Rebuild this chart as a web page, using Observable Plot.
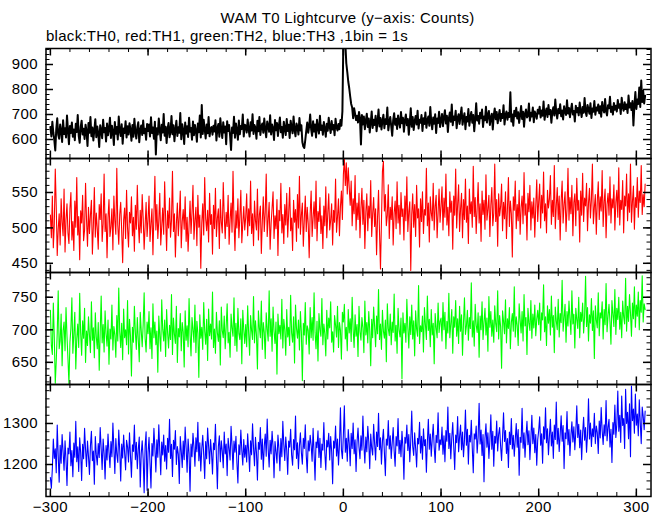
<!DOCTYPE html>
<html><head><meta charset="utf-8">
<script src="https://cdn.jsdelivr.net/npm/d3@7"></script>
<script src="https://cdn.jsdelivr.net/npm/@observablehq/plot@0.6"></script>
<style>
body{margin:0;background:#fff;}
#chart{position:relative;width:661px;height:515px;background:#fff;font-family:"Liberation Sans",Arial,sans-serif;color:#000;}
#title{position:absolute;left:45px;width:605px;top:9px;text-align:center;font-size:15px;letter-spacing:0.3px;line-height:17px;white-space:nowrap;}
#subtitle{position:absolute;left:46px;top:27px;font-size:15px;letter-spacing:0.28px;line-height:17px;white-space:nowrap;}
.panel{position:absolute;left:0;}
.panel text{letter-spacing:0.4px;}
</style></head>
<body>
<div id="chart">
<div id="title">WAM T0 Lightcurve (y−axis: Counts)</div>
<div id="subtitle">black:TH0, red:TH1, green:TH2, blue:TH3 ,1bin = 1s</div>
</div>
<script>
// first bin time (s), 1 bin = 1 s
const tStart = -300;

// TH0 (black) counts per bin, t = -300 ... 309
const th0 = [
650,612,671,628,598,556,641,685,619,603,660,634,590,677,622,645,608,696,637,581,
654,626,668,611,640,597,663,630,698,615,587,649,675,620,643,602,659,633,574,666,
627,690,613,648,596,638,681,609,652,624,570,657,636,605,679,629,646,592,664,617,
642,687,606,655,631,578,670,623,650,600,692,635,614,661,583,644,626,673,608,653,
620,665,639,595,658,611,683,632,604,647,669,589,637,656,618,676,625,643,599,662,
634,660,612,689,626,648,603,671,540,645,620,684,637,597,659,628,702,615,651,586,
643,666,609,632,694,621,657,593,640,675,614,649,627,706,601,661,636,582,668,624,
653,610,687,631,646,599,672,617,658,635,591,664,629,696,608,738,622,679,641,604,
660,625,690,613,643,650,619,655,632,677,596,644,662,611,685,639,606,669,628,652,
581,673,634,658,615,558,648,626,691,607,664,637,599,676,621,654,642,700,612,659,
655,628,680,641,612,669,636,701,622,658,647,603,675,633,690,618,651,664,627,684,
640,609,672,653,631,697,620,660,645,598,678,637,666,614,655,688,629,650,607,671,
643,618,682,634,659,606,675,648,625,692,639,613,664,651,620,686,636,657,590,572,
566,598,635,668,627,654,700,641,615,673,632,660,608,679,646,624,695,638,656,619,
670,644,611,663,635,687,652,626,674,640,658,617,683,648,636,
662,641,678,655,712,
1000,1000,985,905,870,832,805,772,742,728,685,725,702,678,695,668,710,684,580,698,
660,692,641,675,703,650,684,628,667,712,646,679,658,695,633,671,720,652,686,640,
674,699,645,681,662,728,637,668,690,654,615,677,705,659,683,642,696,671,648,710,
665,687,631,676,700,657,682,619,669,725,651,690,638,673,694,660,715,644,679,667,
698,634,685,662,708,647,677,692,655,730,670,641,688,663,701,626,684,666,711,650,
676,702,653,689,717,664,695,630,683,708,671,740,657,692,678,715,645,686,701,662,
697,728,659,684,705,641,690,672,722,655,688,710,667,698,633,681,745,676,694,663,
707,685,720,650,692,677,731,668,699,714,658,688,703,640,696,724,681,710,665,693,
718,674,702,686,737,660,697,712,679,706,690,789,672,700,655,715,693,727,684,709,
666,698,734,682,711,651,703,720,688,695,744,675,707,692,728,669,712,700,683,719,
704,731,688,716,695,752,679,709,724,690,738,701,718,667,712,729,696,760,708,684,
722,705,741,693,716,680,733,711,698,757,704,726,689,719,743,700,714,672,735,709,
726,697,748,715,690,730,707,766,712,694,738,720,703,745,686,724,711,754,699,728,
716,740,705,733,691,750,721,708,762,713,696,737,725,771,710,731,700,746,719,735,
712,758,727,741,702,767,730,715,749,722,740,706,776,728,745,718,754,656,736,790,
722,760,742,808,730,836,750,795,744,775
];

// TH1 (red)
const th1 = [
518,486,545,472,505,583,530,461,498,520,476,541,508,489,555,466,512,534,493,478,
527,550,483,509,468,538,501,571,490,516,455,524,507,546,482,497,563,511,474,529,
492,518,539,463,503,557,487,521,499,470,533,512,548,481,506,576,495,520,458,514,
540,488,502,527,469,545,510,491,584,504,477,519,536,496,451,511,528,485,553,500,
473,522,507,544,489,515,467,532,498,560,508,479,525,493,547,514,470,503,536,488,
512,545,481,506,527,462,519,573,497,533,485,510,549,476,502,528,491,565,514,468,
524,500,542,487,511,580,495,520,459,506,535,489,517,552,472,509,526,498,544,481,
515,467,503,538,492,521,560,484,510,529,475,546,501,518,443,507,534,490,571,513,
496,525,480,549,505,519,463,532,499,556,488,514,527,471,540,508,493,564,517,485,
522,502,546,477,511,535,494,580,509,468,524,500,541,486,516,553,479,506,530,497,
515,548,489,527,503,566,492,520,475,538,510,497,555,483,518,531,464,509,544,495,
522,576,488,512,536,470,506,528,551,485,517,499,540,461,525,510,563,493,519,478,
533,504,549,487,521,557,496,514,468,539,508,526,481,547,500,573,491,518,535,474,
512,545,495,529,506,458,520,552,488,514,537,499,566,482,523,509,543,492,517,471,
531,503,558,486,520,548,497,511,534,476,525,508,569,494,516,541,489,530,552,512,
575,598,560,592,548,585,557,532,566,503,541,520,574,497,535,512,549,486,528,556,
505,539,471,522,548,496,531,514,567,488,520,543,502,527,462,515,553,494,442,509,
580,594,524,547,503,518,561,485,529,512,544,476,521,538,499,565,507,532,491,550,
516,527,483,545,510,572,495,523,537,440,519,548,501,533,488,560,514,527,473,541,
509,551,492,526,518,584,503,535,480,544,521,510,563,497,530,546,486,522,555,508,
531,558,497,542,515,576,504,529,489,551,522,538,470,545,518,583,500,533,561,495,
527,549,486,540,512,569,508,531,478,555,520,537,501,587,516,543,492,528,564,507,
534,481,552,519,539,498,575,511,526,546,488,532,557,503,521,590,509,540,474,548,
517,530,562,496,536,513,551,485,527,571,502,538,520,459,544,525,566,499,533,510,
553,491,529,545,506,578,518,534,483,549,523,560,497,537,514,542,487,531,568,509,
537,562,500,546,521,579,510,534,493,553,528,541,574,505,539,516,588,499,531,557,
512,545,483,538,566,507,533,551,495,527,584,511,543,520,560,489,536,548,503,570,
525,539,480,552,518,577,509,542,531,563,496,535,556,514,540,590,506,529,547,491,
538,565,512,544,524,581,502,537,555,486,533,549,518,572,507,541,528,561,497,536,
553,515,585,504,539,526,567,493,545,531,576,510,548,522,590,508,537,559,498,543,
529,571,515,552,536,588,519,547,530,562
];

// TH2 (green)
const th2 = [
730,676,662,741,688,618,652,695,760,671,683,724,645,699,712,668,734,690,655,617,
681,702,749,664,693,727,640,686,709,673,756,695,661,714,687,733,650,698,676,720,
692,665,743,684,703,657,726,689,671,711,638,697,752,680,708,666,729,694,675,715,
647,701,686,738,669,705,692,658,722,683,764,697,673,710,654,732,688,700,677,745,
663,716,691,629,704,681,736,696,670,719,685,651,727,699,674,708,757,687,666,712,
694,728,671,703,656,740,688,712,677,698,635,721,690,667,746,701,683,715,659,731,
696,672,707,685,754,662,718,693,679,736,650,702,689,725,668,711,697,643,729,684,
706,674,748,692,660,719,700,681,738,665,713,695,627,723,687,704,670,742,698,678,
716,653,732,691,709,686,758,673,701,664,727,695,682,714,646,735,699,688,721,671,
705,740,680,696,658,724,703,690,749,676,710,667,733,694,685,717,648,730,700,679,
708,674,737,695,661,722,699,685,751,680,714,692,640,729,703,688,744,670,711,696,
656,726,701,683,760,690,717,667,735,698,679,712,632,724,694,707,686,747,672,716,
700,661,731,689,704,676,753,695,681,720,649,738,702,687,715,669,728,697,622,710,
692,742,678,706,699,663,734,688,719,684,757,696,671,713,652,725,701,690,748,677,
709,694,660,730,686,718,703,743,681,697,666,722,707,689,736,673,711,699,655,727,
712,739,686,704,668,731,695,717,682,750,700,673,723,690,708,659,736,697,684,719,
703,665,744,692,711,680,728,699,645,716,688,735,705,674,721,694,762,685,709,670,
730,698,687,715,651,740,702,691,724,677,712,696,755,683,707,664,733,700,689,718,
625,726,695,710,681,747,704,672,720,693,738,686,714,660,729,701,690,768,679,706,
697,721,666,734,708,685,752,699,716,674,731,692,710,648,725,703,688,741,696,713,
718,683,742,700,727,671,713,695,756,688,709,731,664,720,704,745,690,717,679,736,
698,723,661,711,749,693,706,730,684,719,702,772,689,714,675,739,707,696,726,658,
721,700,743,685,712,733,692,718,667,751,704,728,690,715,681,737,709,697,760,686,
722,705,641,729,713,694,746,680,717,702,734,671,711,725,698,766,689,720,707,676,
740,715,695,728,683,754,706,719,662,733,711,699,745,687,724,703,738,691,716,730,
708,741,684,726,715,769,697,720,676,737,710,731,692,752,704,722,665,735,714,700,
747,689,725,711,776,698,719,739,681,728,706,744,717,693,760,709,724,672,733,716,
702,750,688,727,713,741,695,720,782,705,734,683,723,710,748,699,729,656,737,715,
703,757,691,726,718,743,686,731,708,771,697,721,739,712,678,745,724,705,762,693,
733,716,750,701,727,688,744,720,709,779,698,736,713,754,725,690,741,717,766,704,
738,721,758,700,745,727,783,712,740,731
];

// TH3 (blue)
const th3 = [
1168,1142,1190,1262,1215,1238,1180,1296,1222,1157,1247,1203,1273,1231,1186,1258,1211,1149,1240,1226,
1279,1197,1234,1170,1252,1218,1305,1207,1243,1183,1265,1229,1161,1249,1214,1288,1236,1195,1257,1220,
1176,1245,1281,1209,1233,1152,1268,1224,1199,1251,1217,1290,1238,1188,1262,1227,1165,1246,1211,1274,
1230,1193,1256,1219,1301,1240,1178,1263,1225,1205,1284,1235,1160,1250,1216,1272,1228,1187,1259,1243,
1206,1277,1221,1169,1248,1232,1296,1212,1254,1190,1237,1267,1145,1226,1258,1213,1131,1245,1280,1137,
1229,1266,1204,1143,1251,1221,1288,1239,1182,1260,1218,1297,1234,1175,1255,1223,1272,1208,1246,1189,
1264,1230,1310,1215,1249,1171,1259,1237,1283,1200,1244,1225,1154,1268,1233,1193,1257,1212,1291,1240,
1181,1262,1227,1135,1250,1219,1276,1242,1196,1265,1231,1303,1209,1253,1184,1238,1271,1223,1166,1256,
1214,1289,1245,1202,1261,1229,1177,1252,1236,1298,1218,1141,1244,1270,1207,1258,1233,1192,1279,1226,
1250,1173,1264,1239,1211,1293,1246,1188,1257,1230,1269,1204,1155,1248,1224,1284,1235,1199,1261,1218,
1247,1206,1275,1232,1183,1258,1224,1299,1241,1197,1266,1229,1162,1254,1237,1290,1213,1262,1188,1245,
1274,1220,1311,1238,1194,1259,1226,1281,1244,1168,1256,1231,1204,1272,1240,1185,1263,1219,1305,1248,
1210,1267,1234,1176,1257,1242,1286,1223,1198,1261,1236,1318,1215,1253,1190,1245,1277,1229,1201,1264,
1239,1297,1222,1180,1258,1233,1271,1247,1208,1288,1226,1162,1255,1241,1282,1217,1264,1193,1250,1235,
1302,1228,1187,1259,1243,1276,1211,1268,1232,1153,1257,1240,1294,1221,1262,1199,1249,1338,1236,1214,
1272,1343,1230,1264,1208,1285,1251,1197,1276,1239,1301,1226,1260,1183,1255,1289,1242,1214,1270,1235,
1318,1248,1204,1267,1231,1293,1256,1190,1274,1240,1223,1298,1250,1211,1279,1244,1325,1236,1265,1201,
1257,1286,1229,1173,1262,1247,1307,1238,1270,1215,1253,1290,1233,1196,1268,1245,1312,1227,1259,1219,
1281,1241,1164,1266,1252,1296,1234,1273,1207,1258,1330,1244,1222,1277,1239,1194,1264,1250,1303,1228,
1269,1213,1287,1246,1261,1181,1255,1310,1237,1274,1220,1263,1298,1242,1205,1271,1253,1326,1235,1260,
1248,1291,1225,1270,1207,1283,1257,1340,1239,1276,1214,1265,1302,1244,1188,1272,1253,1317,1231,1268,
1296,1236,1279,1219,1260,1333,1247,1286,1201,1271,1255,1308,1240,1180,1275,1262,1294,1228,1267,1349,
1250,1284,1222,1273,1158,1264,1299,1242,1277,1215,1258,1321,1237,1281,1196,1269,1252,1306,1233,1274,
1290,1245,1210,1268,1326,1256,1283,1227,1263,1193,1279,1249,1312,1238,1271,1220,1261,1300,1242,1285,
1174,1266,1254,1337,1240,1277,1218,1269,1305,1248,1282,1212,1264,1320,1251,1289,1229,1273,1198,1260,
1283,1316,1247,1275,1203,1292,1262,1338,1253,1287,1224,1270,1310,1245,1279,1215,1296,1261,1352,1250,
1288,1232,1273,1319,1257,1295,1190,1277,1263,1329,1248,1285,1222,1271,1304,1255,1292,1236,1280,1343,
1266,1298,1241,1284,1212,1276,1315,1259,1290,1230,1273,1360,1262,1301,1244,1287,1268,1325,1251,1294,
1278,1227,1306,1265,1339,1282,1249,1297,1270,1356,1258,1291,1310,1243,1286,1205,1302,1274,1345,1266,
1298,1379,1281,1320,1254,1367,1295,1312,1239,1383,1300,1327,1263,1348,1219,1391,1307,1335,1276,1372,
1296,1323,1270,1358,1302,1251,1340,1318,1285,1330
];

// axis tick labels
const xTickLabels = [-300, -200, -100, 0, 100, 200, 300];
const yTickLabels0 = [600, 700, 800, 900];
const yTickLabels1 = [450, 500, 550];
const yTickLabels2 = [650, 700, 750];
const yTickLabels3 = [1200, 1300];

const panels = [
  {values: th0, color: "#000000", sw: 2, domain: [524, 964], labels: yTickLabels0, minorStep: 20, top: 48, h: 110},
  {values: th1, color: "#ff0000", sw: 1.1, domain: [437, 598], labels: yTickLabels1, minorStep: 10, top: 158, h: 114},
  {values: th2, color: "#00ff00", sw: 1.1, domain: [616, 788], labels: yTickLabels2, minorStep: 10, top: 272, h: 112},
  {values: th3, color: "#0000ff", sw: 1.1, domain: [1122, 1395], labels: yTickLabels3, minorStep: 20, top: 384, h: 112}
];

const W = 661, ML = 45.5, MR = 10.5, FW = W - ML - MR;
const xDomain = [-304.5, 315];
const xMinor = d3.range(-300, 301, 20);
const fmt = d => d < 0 ? "\u2212" + Math.abs(d) : String(d);
const chart = document.getElementById("chart");

panels.forEach((p, i) => {
  const last = i === panels.length - 1;
  const H = p.h;
  const MB = last ? 22 : 0;
  const rows = p.values.map((v, k) => ({t: tStart + k, c: v}));
  const lo = Math.ceil(p.domain[0] / p.minorStep) * p.minorStep;
  const yMinor = d3.range(lo, p.domain[1], p.minorStep);
  const tk = {stroke: "#000", strokeWidth: 1};
  const marks = [
    Plot.line(rows, {x: "t", y: "c", stroke: p.color, strokeWidth: p.sw, clip: true}),
    Plot.tickX(xMinor, {x: d => d, insetBottom: H - 4, ...tk}),
    Plot.tickX(xMinor, {x: d => d, insetTop: H - 4, ...tk}),
    Plot.tickX(xTickLabels, {x: d => d, insetBottom: H - 7.5, ...tk, strokeWidth: 1.5}),
    Plot.tickX(xTickLabels, {x: d => d, insetTop: H - 7.5, ...tk, strokeWidth: 1.5}),
    Plot.tickY(yMinor, {y: d => d, insetRight: FW - 4, ...tk}),
    Plot.tickY(yMinor, {y: d => d, insetLeft: FW - 4, ...tk}),
    Plot.tickY(p.labels, {y: d => d, insetRight: FW - 7.5, ...tk, strokeWidth: 1.5}),
    Plot.tickY(p.labels, {y: d => d, insetLeft: FW - 7.5, ...tk, strokeWidth: 1.5}),
    Plot.frame({stroke: "#000", strokeWidth: 1.5}),
    Plot.axisY(p.labels, {tickSize: 0, tickPadding: 8, fontSize: 15, label: null, tickFormat: fmt})
  ];
  if (last) marks.push(Plot.axisX(xTickLabels, {tickSize: 0, tickPadding: 5, fontSize: 15, label: null, tickFormat: fmt}));
  const svg = Plot.plot({
    width: W, height: H + MB,
    marginTop: 0, marginBottom: MB, marginLeft: ML, marginRight: MR,
    x: last ? {domain: xDomain} : {domain: xDomain, axis: null},
    y: {domain: p.domain},
    style: {background: "none", overflow: "visible", fontFamily: "'Liberation Sans', Arial, sans-serif", fontSize: "15px", color: "#000"},
    marks
  });
  svg.classList.add("panel");
  svg.style.position = "absolute";
  svg.style.top = p.top + "px";
  svg.style.left = "0px";
  chart.appendChild(svg);
});
</script>
</body></html>
